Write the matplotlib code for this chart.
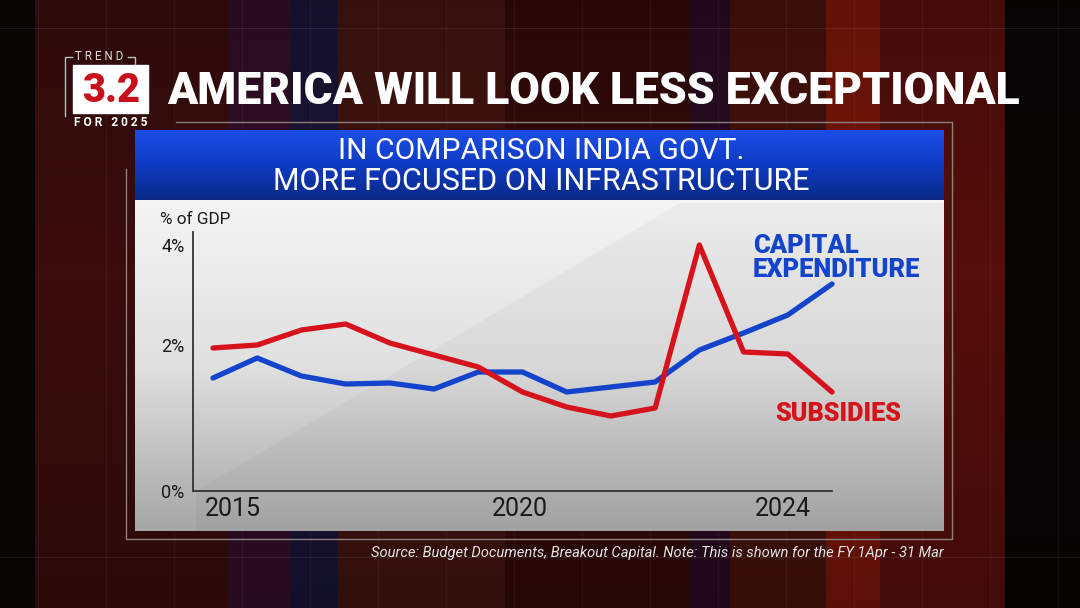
import numpy as np
import matplotlib
matplotlib.use("Agg")
import matplotlib.pyplot as plt
from matplotlib.colors import LinearSegmentedColormap
from matplotlib.patches import Rectangle, Polygon

# Data (% of GDP)
points = list(range(15))
capex = [1.34, 1.74, 1.38, 1.22, 1.24, 1.12, 1.46, 1.46, 1.06, 1.16, 1.26, 1.90, 2.24, 2.60, 3.22]
subsidies = [1.94, 2.00, 2.30, 2.42, 2.04, 1.80, 1.56, 1.06, 0.76, 0.58, 0.74, 4.00, 1.86, 1.82, 1.06]

xtick_labels = ["2015", "2020", "2024"]
xtick_pos = [0.45, 6.95, 12.9]
ytick_labels = ["0%", "2%", "4%"]
ybottom = -0.92
ytick_vals = [ybottom, 2, 4]

W, H = 1080, 608
RED = "#d6121c"
BLUE = "#1443cc"
NARROW = ["Liberation Sans Narrow", "Roboto"]

fig = plt.figure(figsize=(W / 100, H / 100), dpi=100)
bg = fig.add_axes([0, 0, 1, 1])
bg.set_xlim(0, W)
bg.set_ylim(H, 0)
bg.axis("off")

# background bands
bands = [(0, 35, "#0b0606"), (35, 228, "#3a0d0d"), (228, 290, "#330e28"),
         (290, 338, "#1a1536"), (338, 505, "#431410"), (505, 690, "#330b0a"),
         (690, 730, "#2a0c22"), (730, 826, "#46120c"), (826, 880, "#7a160a"),
         (880, 1005, "#560f0c"), (1005, 1080, "#080505")]
for x0, x1, c in bands:
    bg.add_patch(Rectangle((x0, 0), x1 - x0, H, color=c, lw=0))
shade = np.linspace(0, 1, 100).reshape(-1, 1)
bg.imshow(np.abs(shade - 0.45), extent=[0, W, H, 0], cmap=LinearSegmentedColormap.from_list(
    "s", [(0, 0, 0, 0), (0, 0, 0, 0.25)]), aspect="auto", zorder=1)
for y in [28, 557]:
    bg.axhline(y, color="white", alpha=0.08, lw=0.8, zorder=1)
for x in range(38, W, 68):
    bg.axvline(x, color="white", alpha=0.04, lw=0.8, zorder=1)

# frame lines
fc = "#8c7f7f"
bg.plot([176, 952, 952, 126, 126], [122, 122, 539, 539, 169], color=fc, lw=1, zorder=2)

# blue banner
grad = np.linspace(0, 1, 100).reshape(-1, 1)
bcmap = LinearSegmentedColormap.from_list("b", ["#1c4fe6", "#0e3bc4", "#0a2a86"])
bg.imshow(grad, extent=[135, 944, 200, 130], cmap=bcmap, aspect="auto", zorder=3)
t1 = bg.text(541, 151, "IN COMPARISON INDIA GOVT.", color="white", fontsize=20,
             family=NARROW, ha="center", va="center", zorder=4)
t2 = bg.text(541, 181, "MORE FOCUSED ON INFRASTRUCTURE", color="white", fontsize=20,
             family=NARROW, ha="center", va="center", zorder=4)

# chart panel
pcmap = LinearSegmentedColormap.from_list("p", ["#f4f4f4", "#e0e0e0", "#a7a7a7"])
bg.imshow(grad, extent=[135, 944, 531, 200], cmap=pcmap, aspect="auto", zorder=3)
bg.add_patch(Polygon([(196, 491), (680, 203), (944, 203), (944, 531), (196, 531)],
                     color="black", alpha=0.03, lw=0, zorder=3))

# badge
bg.plot([72, 65, 65], [57, 57, 116], color="#bbbbbb", lw=1, zorder=4)
bg.plot([128, 135, 135], [57, 57, 66], color="#bbbbbb", lw=1, zorder=4)
bg.add_patch(Rectangle((73, 65), 75, 48, color="white", zorder=4))
tb = bg.text(111, 91, "3.2", color="#c8101c", fontsize=28, family="Roboto",
             weight="black", ha="center", va="center", zorder=5)
tt = bg.text(99, 57, "T R E N D", color="#dddddd", fontsize=7, family="Roboto",
             ha="center", va="center", zorder=5)
tf = bg.text(111, 122, "F O R   2 0 2 5", color="white", fontsize=8, family="Roboto",
             weight="bold", ha="center", va="center", zorder=5)

title = bg.text(167, 92, "AMERICA WILL LOOK LESS EXCEPTIONAL", color="white", fontsize=30,
                family="Roboto", weight="black", ha="left", va="center", zorder=5)

src = bg.text(944, 553, "Source: Budget Documents, Breakout Capital. Note: This is shown for the FY 1Apr - 31 Mar",
              color="#e4e4e4", fontsize=11, family=NARROW, style="italic",
              ha="right", va="center", zorder=5)

# the chart itself
ax = fig.add_axes([193 / W, 1 - 491 / H, (832 - 193) / W, (491 - 232) / H])
ax.set_facecolor("none")
ax.plot(points, capex, color=BLUE, lw=3.8, solid_capstyle="round", clip_on=False, zorder=3)
ax.plot(points, subsidies, color=RED, lw=3.8, solid_capstyle="round", clip_on=False, zorder=4)
ax.set_xlim(-0.452, 14.0)
ax.set_ylim(ybottom, 4.26)
for s in ["top", "right"]:
    ax.spines[s].set_visible(False)
for s in ["left", "bottom"]:
    ax.spines[s].set_color("#333333")
    ax.spines[s].set_linewidth(1.3)
ax.set_xticks(xtick_pos)
ax.set_xticklabels(xtick_labels, family=NARROW, fontsize=18, color="#1a1a1a")
ax.set_yticks(ytick_vals)
ax.set_yticklabels(ytick_labels, family=NARROW, fontsize=13, color="#1a1a1a")
ax.tick_params(axis="x", length=0, pad=4)
ax.tick_params(axis="y", length=0, pad=6)

gdp = bg.text(160, 219, "% of GDP", color="#1a1a1a", fontsize=11, family=NARROW,
              ha="left", va="center", zorder=5)
lab_c = ax.text(753, 258, "CAPITAL\nEXPENDITURE", color=BLUE, fontsize=16, family="Roboto",
                weight="black", ha="left", va="center", linespacing=1.0,
                transform=bg.transData, zorder=5)
lab_s = ax.text(775, 414, "SUBSIDIES", color=RED, fontsize=16, family="Roboto",
                weight="black", ha="left", va="center", transform=bg.transData, zorder=5)


def fit(t, width):
    fig.canvas.draw()
    w = t.get_window_extent().width
    t.set_fontsize(t.get_fontsize() * width / w)


fit(title, 853)
fit(t1, 406)
fit(t2, 537)
fit(tb, 58)
fit(tt, 48)
fit(tf, 73)
fit(src, 570)
fit(gdp, 70)
fit(lab_c, 168)
fit(lab_s, 127)

fig.savefig("out.png", dpi=100)
